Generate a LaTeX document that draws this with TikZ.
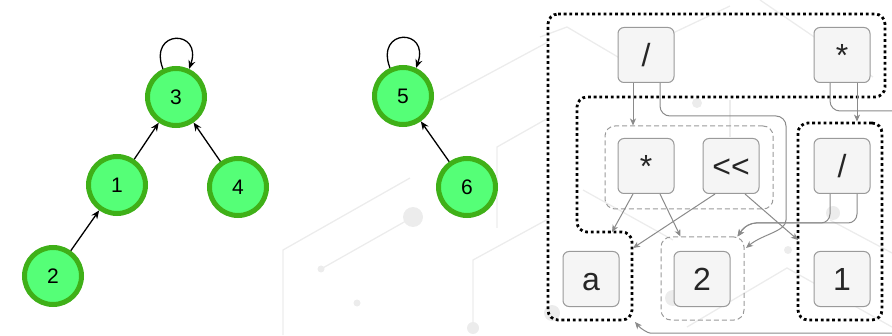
\documentclass[tikz,border=0pt]{standalone}
\usepackage{fontspec}
\setmainfont{Liberation Sans}
\usetikzlibrary{arrows.meta}
\definecolor{gborder}{HTML}{3FB018}
\definecolor{gfill}{HTML}{55FF77}
\definecolor{boxfill}{HTML}{F5F5F5}
\definecolor{boxline}{HTML}{9A9A9A}
\definecolor{edgegray}{HTML}{8A8A8A}
\definecolor{bgline}{HTML}{ECECEC}
\tikzset{
  gnode/.style={circle, draw=gborder, line width=5pt, fill=gfill, minimum size=57pt, inner sep=0pt,
    font=\fontsize{21}{24}\selectfont},
  barrow/.style={line width=1.3pt, -{Stealth[length=8.5pt,width=7pt]}},
  ebox/.style={rectangle, rounded corners=6pt, draw=boxline, line width=1pt, fill=boxfill,
    minimum width=56pt, minimum height=55pt, inner sep=0pt, text height=23pt, text depth=0pt,
    text=black!85, font=\fontsize{32}{36}\selectfont},
  dotgrp/.style={draw=black, line width=2.8pt, dash pattern=on 2.8pt off 2.9pt, rounded corners=10pt},
  dashgrp/.style={rectangle, draw=boxline, line width=1pt, dash pattern=on 5pt off 3pt, rounded corners=10pt, inner sep=0pt},
  garrow/.style={draw=edgegray, line width=1pt, -{Stealth[length=7pt,width=6pt,inset=2pt]}},
  bgl/.style={draw=bgline, line width=1.3pt},
  bgd/.style={fill=bgline},
}
\begin{document}
\begin{tikzpicture}[x=1pt,y=1pt]
\useasboundingbox (0,0) rectangle (892,335);
\clip (0,0) rectangle (892,335);
% background decoration
\draw[bgl] (283,0) -- (283,85) -- (410,157);
\draw[bgl] (321,66) -- (413,118);
\fill[bgd] (413,118) circle (10);
\fill[bgd] (321,66) circle (3.5);
\fill[bgd] (357,32) circle (3.5);
\draw[bgl] (473,5) -- (473,75) -- (550,117);
\fill[bgd] (473,7) circle (6);
\draw[bgl] (497,107) -- (497,188) -- (550,218);
\draw[bgl] (440,235) -- (548,293);
\fill[bgd] (552,22) circle (8);
\draw[bgl] (540,298) -- (567,308) -- (623,275);
\draw[bgl] (673,302) -- (730,329);
\draw[bgl] (730,235) -- (730,198);
\fill[bgd] (697,232) circle (5);
\fill[bgd] (833,122) circle (7);
\fill[bgd] (788,85) circle (4);
\fill[bgd] (673,37) circle (8);
\draw[bgl] (583,145) -- (673,95);
\draw[bgl] (687,8) -- (787,67) -- (892,8);
\draw[bgl] (830,115) -- (892,82);
\draw[bgl] (760,335) -- (873,258);
% left graphs
\node[gnode] (n3) at (176,238) {3};
\node[gnode] (n1) at (117,150) {1};
\node[gnode] (n4) at (238,148) {4};
\node[gnode] (n2) at (53,59) {2};
\node[gnode] (n5) at (403,239) {5};
\node[gnode] (n6) at (467,148) {6};
\draw[barrow] (n1) -- (n3);
\draw[barrow] (n4) -- (n3);
\draw[barrow] (n2) -- (n1);
\draw[barrow] (n6) -- (n5);
\draw[barrow] (n3.115) .. controls +(-15pt,40pt) and +(14pt,40pt) .. (n3.65);
\draw[barrow] (n5.115) .. controls +(-15pt,40pt) and +(14pt,40pt) .. (n5.65);
% e-graph groups
\draw[dotgrp] (548,321) -- (885,321) -- (885,238) -- (577,238) -- (577,103) -- (632,103) -- (632,15) -- (548,15) -- cycle;
\coordinate (rootN) at (612,103);
\coordinate (rootE) at (633,87);
\coordinate (rootS) at (635,13);
\node[dashgrp, minimum width=168pt, minimum height=83pt] (gMul) at (689,167.5) {};
\node[dashgrp, minimum width=83pt, minimum height=83pt] (gTwo) at (702.5,56.5) {};
\node[rectangle, dotgrp, minimum width=84pt, minimum height=197pt, inner sep=0pt] (gOne) at (840,113.5) {};
% boxes
\node[ebox] (divT) at (646,280) {/};
\node[ebox] (mulT) at (842,280) {*};
\node[ebox] (mulM) at (646,169) {*};
\node[ebox] (shl) at (731,169) {<\kern0pt<};
\node[ebox] (divR) at (842,169) {/};
\node[ebox] (na) at (591,56) {a};
\node[ebox] (nTwo) at (702,56) {2};
\node[ebox] (nOne) at (842,56) {1};
% edges
\draw[garrow] ([xshift=-13pt]divT.south) -- ([xshift=-13pt]divT.south |- gMul.north);
\draw[garrow, rounded corners=10pt] ([xshift=14pt]divT.south) |- (786,219) -- (786,125) to[out=-90,in=40] (746,87);
\draw[garrow, rounded corners=10pt] ([xshift=-12pt]mulT.south) |- (905,224) -- (905,2) -- (660,2) .. controls (648,2) and (641,6) .. (rootS);
\draw[garrow] ([xshift=15pt]mulT.south) -- ([xshift=15pt]mulT.south |- gOne.north);
\draw[garrow] ([xshift=-13pt]mulM.south) -- (rootN);
\draw[garrow] ([xshift=14pt]mulM.south) -- ([xshift=-22pt]gTwo.north);
\draw[garrow] ([xshift=-16pt]shl.south) -- (rootE);
\draw[garrow] ([xshift=14pt]shl.south) -- (798,95);
\draw[garrow, rounded corners=9pt] ([xshift=-12pt]divR.south) |- (747,112) -- ([xshift=35pt]gTwo.north);
\draw[garrow, rounded corners=9pt] ([xshift=15pt]divR.south) |- (747,112) -- ([xshift=35pt]gTwo.north);
\end{tikzpicture}
\end{document}
